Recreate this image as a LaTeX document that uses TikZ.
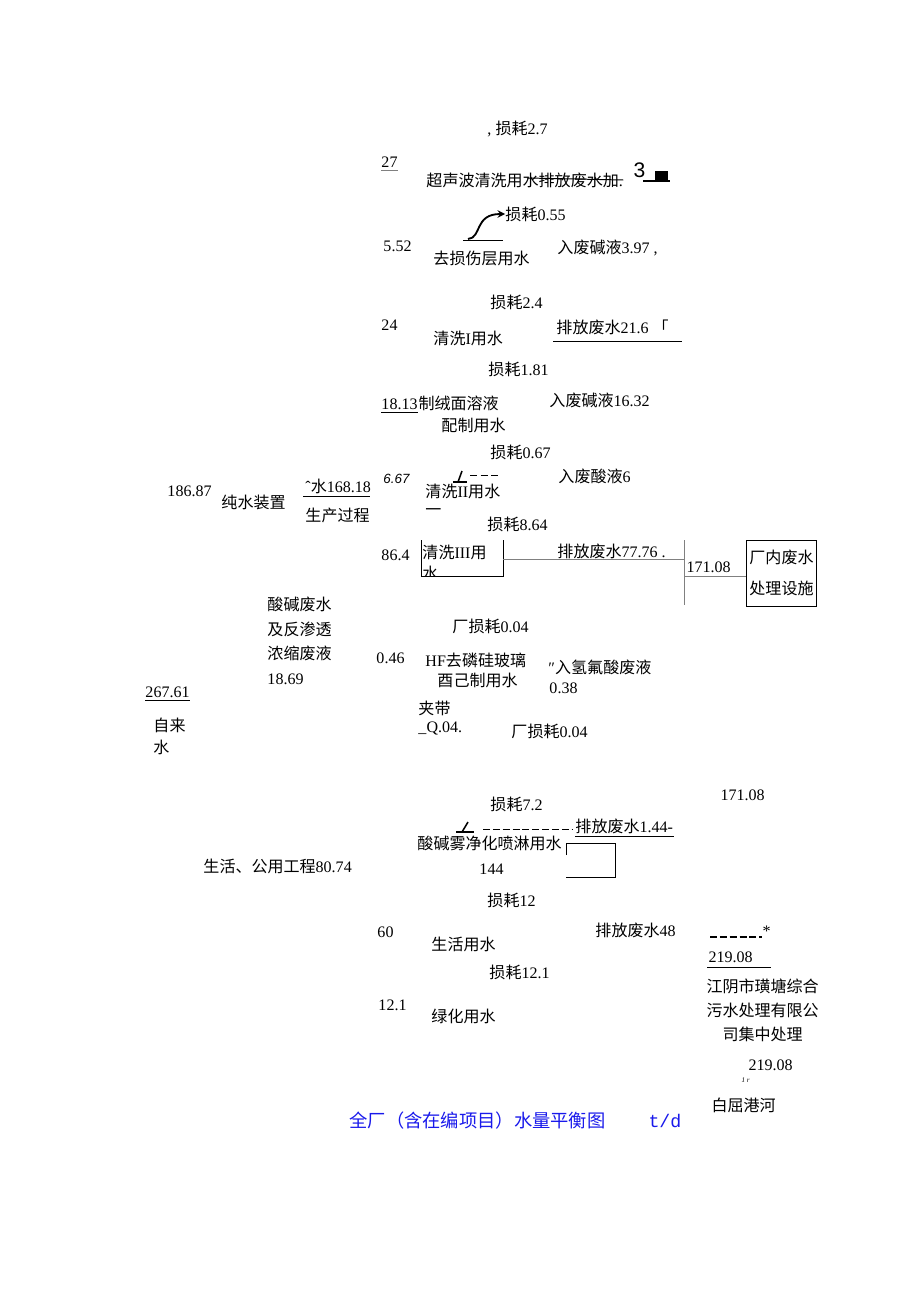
\documentclass[tikz,border=0pt]{standalone}
\usepackage{fontspec}
\setmainfont{Liberation Serif}
\setsansfont{Liberation Sans}
\setmonofont{Liberation Mono}
\newfontfamily\cjk{Noto Sans CJK SC}
\usetikzlibrary{arrows, positioning}
\definecolor{titleblue}{RGB}{25,25,235}
\tikzstyle{lbl} = [anchor=west, inner sep=0pt, font=\fontsize{11.4}{14}\selectfont]
\tikzstyle{arrow} = [line width=1.3pt,->,>=stealth]

\begin{document}
\begin{tikzpicture}[x=0.025cm, y=-0.025cm, line width=0.7pt]
\useasboundingbox (0,0) rectangle (920,1302);

% ultrasonic cleaning
\node [lbl] (loss27) at (487,129) {, {\cjk 损耗}2.7};
\node [lbl] (in27) at (381,162) {27};
\node [lbl] (ultra) at (426,180) {{\cjk 超声波清洗用水排放废水加}.};
\node [lbl, font=\fontsize{15}{15}\selectfont\sffamily] (three) at (633,170) {3};
\coordinate (strike) at (527,178);
\draw [gray] ([yshift=-2pt]in27.south west) -- ([yshift=-2pt]in27.south east);
\draw (strike) -- (ultra.east);
\draw [line width=1pt] (643,181) -- (670,181);
\fill (655,171) rectangle (668,182);

% damage layer
\node [lbl] (loss055) at (505,214) {{\cjk 损耗}0.55};
\node [lbl] (in552) at (383,246) {5.52};
\node [lbl] (strip) at (433,258) {\cjk 去损伤层用水};
\node [lbl] (alk397) at (557,248) {{\cjk 入废碱液}3.97 ,};
\coordinate (s1) at (463,240);
\coordinate (s2) at (503,240);
\coordinate (c1) at (468,239);
\draw (s1) -- (s2);
\draw [arrow] (c1) .. controls (482,238) and (474,214) .. (loss055.west);

% wash I
\node [lbl] (loss24) at (490,302) {{\cjk 损耗}2.4};
\node [lbl] (in24) at (381,325) {24};
\node [lbl] (wash1) at (433,338) {{\cjk 清洗}I{\cjk 用水}};
\node [lbl] (drain216) at (556,327) {{\cjk 排放废水}21.6 {\cjk 「}};
\coordinate (u1) at (553,341);
\coordinate (u2) at (682,341);
\draw (u1) -- (u2);

% texturing
\node [lbl] (loss181) at (488,369) {{\cjk 损耗}1.81};
\node [lbl] (in1813) at (381,404) {18.13};
\node [lbl] (texture) [right=0pt of in1813] {\cjk 制绒面溶液};
\node [lbl] (texture2) at (441,425) {\cjk 配制用水};
\node [lbl] (alk1632) at (549,400) {{\cjk 入废碱液}16.32};
\draw ([yshift=-2pt]in1813.south west) -- ([yshift=-2pt]in1813.south east);

% wash II
\node [lbl] (loss067) at (490,452) {{\cjk 损耗}0.67};
\node [lbl, font=\fontsize{9.5}{11}\selectfont\sffamily\itshape] (in667) at (383,479) {6.67};
\node [lbl] (wash2) at (425,491) {{\cjk 清洗}II{\cjk 用水}};
\node [lbl] (dash2) at (425,512) {\cjk 一};
\node [lbl] (acid6) at (558,476) {{\cjk 入废酸液}6};
\coordinate (m1) at (453,482);
\coordinate (m2) at (467,482);
\draw [line width=1.1pt] (m1) -- (m2);
\draw [line width=1.1pt] (458,482) -- (462,471);
\draw [dashed, dash pattern=on 5pt off 2.5pt] (470,475) -- (501,475);

% pure water
\node [lbl] (in18687) at (167,491) {186.87};
\node [lbl] (purifier) at (221,502) {\cjk 纯水装置};
\node [lbl] (w16818) at (305,486) {ˆ{\cjk 水}168.18};
\node [lbl] (prod) at (305,515) {\cjk 生产过程};
\coordinate (p1) at (303,496);
\coordinate (p2) at (370,496);
\draw (p1) -- (p2);

% wash III
\node [lbl] (loss864) at (487,524) {{\cjk 损耗}8.64};
\node [lbl] (in864) at (381,555) {86.4};
\begin{scope}
\clip (415,535) rectangle (510,576);
\node [lbl] (wash3) at (422,552) {{\cjk 清洗}III{\cjk 用}};
\node [lbl] (wash3b) at (422,573) {\cjk 水};
\end{scope}
\coordinate (b1) at (421,540);
\coordinate (b2) at (421,576);
\coordinate (b3) at (503,576);
\coordinate (b4) at (503,540);
\coordinate (b5) at (503,559);
\coordinate (j1) at (684,559);
\coordinate (j2) at (684,540);
\coordinate (j3) at (684,605);
\coordinate (j4) at (684,576);
\draw (b1) -- (b2) -- (b3) -- (b4);
\draw [gray] (b5) -- (j1);
\draw [gray] (j2) -- (j3);
\node [lbl] (drain7776) at (557,551) {{\cjk 排放废水}77.76 .};
\node [lbl] (in17108) at (686,567) {171.08};
\node [rectangle, draw, inner sep=2pt, align=center, font=\fontsize{11.4}{22}\selectfont, minimum width=69*0.025cm, minimum height=66*0.025cm] (plant) at (781.5,573) {\cjk 厂内废水\\\cjk 处理设施};
\draw [gray] (j4) -- (j4 -| plant.west);

% acid waste and tap water
\node [lbl] (acidw1) at (267,604) {\cjk 酸碱废水};
\node [lbl] (acidw2) at (267,629) {\cjk 及反渗透};
\node [lbl] (acidw3) at (267,653) {\cjk 浓缩废液};
\node [lbl] (acidw4) at (267,679) {18.69};
\node [lbl] (in26761) at (145,692) {267.61};
\node [lbl] (tap1) at (153,725) {\cjk 自来};
\node [lbl] (tap2) at (153,747) {\cjk 水};
\draw ([yshift=-2pt]in26761.south west) -- ([yshift=-2pt]in26761.south east);

% HF
\node [lbl] (loss004a) at (452,626) {{\cjk 厂损耗}0.04};
\node [lbl] (in046) at (376,658) {0.46};
\node [lbl] (hf1) at (425,660) {HF{\cjk 去磷硅玻璃}};
\node [lbl] (hf2) at (437,680) {\cjk 酉己制用水};
\node [lbl] (hfw) at (548,667) {″{\cjk 入氢氟酸废液}};
\node [lbl] (hf038) at (549,688) {0.38};
\node [lbl] (carry) at (418,708) {\cjk 夹带};
\node [lbl] (carry2) at (418,728) {\_Q.04.};
\node [lbl] (loss004b) at (511,731) {{\cjk 厂损耗}0.04};
\node [lbl] (in17108b) at (720,795) {171.08};

% spray
\node [lbl] (loss72) at (490,804) {{\cjk 损耗}7.2};
\coordinate (k1) at (456,832);
\coordinate (k2) at (474,832);
\draw [line width=1.1pt] (k1) -- (k2);
\draw [line width=1.1pt] (462,832) -- (468,822);
\draw [dashed, dash pattern=on 5pt off 2pt] (483,829) -- (573,829);
\node [lbl] (drain144) at (575,826) {{\cjk 排放废水}1.44-};
\draw ([yshift=-2pt]drain144.south west) -- ([yshift=-2pt]drain144.south east);
\node [lbl] (spray) at (417,843) {\cjk 酸碱雾净化喷淋用水};
\coordinate (r1) at (566,855);
\coordinate (r2) at (566,843);
\coordinate (r3) at (615,843);
\coordinate (r4) at (615,877);
\coordinate (r5) at (566,877);
\draw (r1) -- (r2) -- (r3) -- (r4) -- (r5);
\node [lbl] (life) at (203,866) {{\cjk 生活、公用工程}80.74};
\node [lbl] (in144) at (479,869) {144};

% living and greening
\node [lbl] (loss12) at (487,900) {{\cjk 损耗}12};
\node [lbl] (in60) at (377,932) {60};
\node [lbl] (living) at (431,944) {\cjk 生活用水};
\node [lbl] (drain48) at (595,930) {{\cjk 排放废水}48};
\node [lbl] (star) at (762,931) {*};
\coordinate (d1) at (710,937);
\draw [dashed, dash pattern=on 5pt off 2pt, line width=1pt] (d1) -- (d1 -| star.west);
\node [lbl] (in21908) at (708,957) {219.08};
\coordinate (v1) at (707,967);
\coordinate (v2) at (771,967);
\draw (v1) -- (v2);
\node [lbl] (loss121) at (489,972) {{\cjk 损耗}12.1};
\node [lbl] (in121) at (378,1005) {12.1};
\node [lbl] (green) at (431,1016) {\cjk 绿化用水};

% municipal plant and river
\node [lbl] (city1) at (706,986) {\cjk 江阴市璜塘综合};
\node [lbl] (city2) at (706,1010) {\cjk 污水处理有限公};
\node [lbl] (city3) at (722,1034) {\cjk 司集中处理};
\node [lbl] (out21908) at (748,1065) {219.08};
\node [lbl, font=\fontsize{5}{6}\selectfont\itshape] (tiny) at (741,1080) {1 r};
\node [lbl] (river) at (711,1105) {\cjk 白屈港河};

% title
\node [lbl, font=\fontsize{13}{15}\selectfont, text=titleblue] (title) at (349,1121) {\cjk 全厂（含在编项目）水量平衡图};
\node [lbl, font=\fontsize{13}{15}\selectfont\ttfamily, text=titleblue] (unit) at (648,1121) {t/d};
\end{tikzpicture}
\end{document}
